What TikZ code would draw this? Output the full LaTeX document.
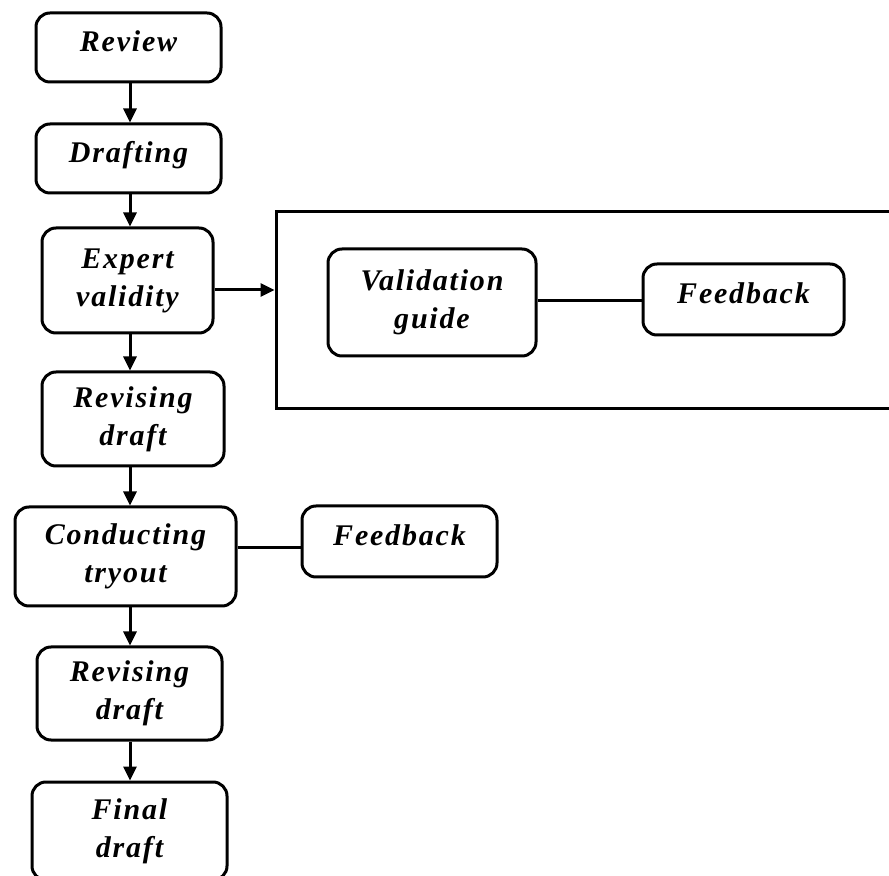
\documentclass[tikz,border=0pt]{standalone}
\usepackage{fontspec}
\newfontfamily\lblfont{Liberation Serif}[LetterSpace=6]
\usetikzlibrary{arrows.meta}
\tikzset{
  box/.style={draw, line width=1.5pt, rounded corners=7pt, align=center,
    inner sep=0pt, font=\lblfont\bfseries\itshape\fontsize{15}{19}\selectfont},
  single/.style={text height=0.7em, text depth=0.25em},
  arr/.style={line width=1.5pt, -{Triangle[length=7pt,width=6.5pt]}},
  link/.style={line width=1.5pt},
  groupbox/.style={draw, line width=1.5pt, inner sep=0pt}
}
\begin{document}
\begin{tikzpicture}[x=0.5pt,y=-0.5pt]
\useasboundingbox (0,0) rectangle (889,876);
\clip (0,0) rectangle (889,876);
\fill[white] (0,0) rectangle (889,876);
% main column
\node[box,single,minimum width=92.5pt,minimum height=34.5pt] (review) at (128.5,47.5) {Review};
\node[box,single,minimum width=92.5pt,minimum height=34.5pt] (drafting) at (128.5,158.5) {Drafting};
\node[box,minimum width=85.5pt,minimum height=52.5pt] (expert) at (127.5,280.5) {Expert\\validity};
\node[box,minimum width=91pt,minimum height=47pt] (revise1) at (133,419) {Revising\\draft};
\node[box,minimum width=110.5pt,minimum height=49.5pt] (conduct) at (125.5,556.5) {Conducting\\tryout};
\node[box,minimum width=92.5pt,minimum height=46.5pt] (revise2) at (129.5,693.5) {Revising\\draft};
\node[box,minimum width=97.5pt,minimum height=49pt] (final) at (129.5,831) {Final\\draft};
% side boxes
\node[box,single,minimum width=97.5pt,minimum height=35.5pt] (fbtry) at (399.5,541.5) {Feedback};
\node[groupbox,minimum width=312pt,minimum height=98.5pt] (group) at (588,310.5) {};
\node[box,minimum width=104pt,minimum height=53.5pt] (valid) at (432,302.5) {Validation\\guide};
\node[box,single,minimum width=100.5pt,minimum height=35.5pt] (fbval) at (743.5,299.5) {Feedback};
% helper coordinates
\coordinate (col) at (130,0);
\coordinate (rowA) at (0,290);
\coordinate (rowB) at (0,301);
\coordinate (rowC) at (0,548);
% arrows down the column
\draw[arr] (review.south -| col) -- (drafting.north -| col);
\draw[arr] (drafting.south -| col) -- (expert.north -| col);
\draw[arr] (expert.south -| col) -- (revise1.north -| col);
\draw[arr] (revise1.south -| col) -- (conduct.north -| col);
\draw[arr] (conduct.south -| col) -- (revise2.north -| col);
\draw[arr] (revise2.south -| col) -- (final.north -| col);
% side connections
\draw[arr] (expert.east |- rowA) -- (group.west |- rowA);
\draw[link] (valid.east |- rowB) -- (fbval.west |- rowB);
\draw[link] (conduct.east |- rowC) -- (fbtry.west |- rowC);
\end{tikzpicture}
\end{document}
